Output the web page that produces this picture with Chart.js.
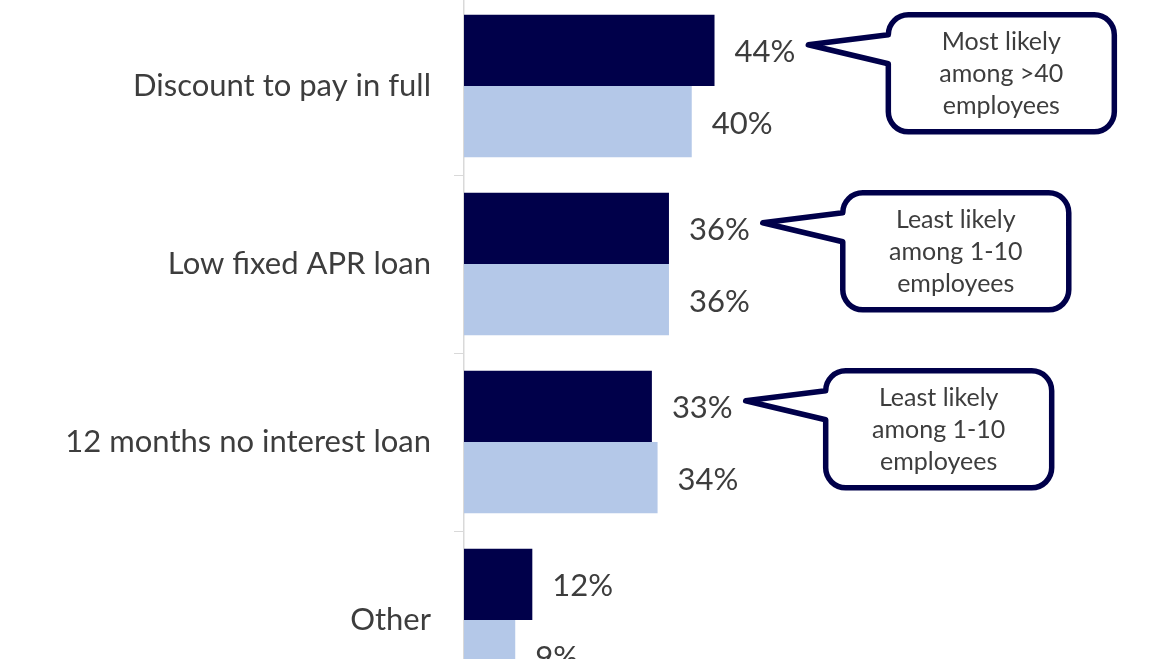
<!DOCTYPE html>
<html>
<head>
<meta charset="utf-8">
<script src="https://cdn.jsdelivr.net/npm/chart.js@4.4.1/dist/chart.umd.min.js"></script>
<style>
  html, body { margin: 0; padding: 0; background: #fff; overflow: hidden; }
  #wrap { position: absolute; left: 0; top: -3px; width: 1170px; height: 712px; }
</style>
</head>
<body>
<div id="wrap"><canvas id="chart"></canvas></div>
<script>
// ── Data ────────────────────────────────────────────────────────

const CATEGORIES = [
  "Discount to pay in full",
  "Low fixed APR loan",
  "12 months no interest loan",
  "Other",
];

const SERIES_DARK  = [44, 36, 33, 12];
const SERIES_LIGHT = [40, 36, 34, 9];

const CALLOUTS = [
  ["Most likely", "among >40", "employees"],
  ["Least likely", "among 1-10", "employees"],
  ["Least likely", "among 1-10", "employees"],
  null,
];

const FONT = "Lato";
const TEXT = "#3d3d3d";
const NAVY = "#00004a";

// ── Labels + callouts plugin ────────────────────────────────────

function roundedCallout(ctx, left, top, w, h, r, tipX, tipY) {
  const right = left + w, bottom = top + h;
  ctx.beginPath();
  ctx.moveTo(left, top + r);
  ctx.arcTo(left, top, left + r, top, r);
  ctx.lineTo(right - r, top);
  ctx.arcTo(right, top, right, top + r, r);
  ctx.lineTo(right, bottom - r);
  ctx.arcTo(right, bottom, right - r, bottom, r);
  ctx.lineTo(left + r, bottom);
  ctx.arcTo(left, bottom, left, bottom - r, r);
  ctx.lineTo(left, top + 49);
  ctx.lineTo(tipX, tipY);
  ctx.closePath();
}

const labelPlugin = {
  id: "labelPlugin",
  afterDatasetsDraw(chart) {
    const ctx = chart.ctx;
    ctx.save();
    ctx.font = `31px ${FONT}`;
    ctx.fillStyle = TEXT;
    ctx.textAlign = "left";
    ctx.textBaseline = "middle";

    chart.data.datasets.forEach((ds, di) => {
      const meta = chart.getDatasetMeta(di);
      meta.data.forEach((bar, i) => {
        const { x, y } = bar.getProps(["x", "y"], true);
        ctx.fillText(ds.data[i] + "%", x + 20, y + 2);
      });
    });

    const meta0 = chart.getDatasetMeta(0);
    CALLOUTS.forEach((lines, i) => {
      if (!lines) return;
      const bar = meta0.data[i];
      const { x, y, height } = bar.getProps(["x", "y", "height"], true);
      ctx.font = `31px ${FONT}`;
      const labelW = ctx.measureText(SERIES_DARK[i] + "%").width;
      const top = y - height / 2;
      const tipX = x + 20 + labelW + 13;
      const tipY = top + 30;
      const left = tipX + 80;
      const w = 226, h = 117;

      roundedCallout(ctx, left, top, w, h, 20, tipX, tipY);
      ctx.fillStyle = "#ffffff";
      ctx.fill();
      ctx.lineWidth = 5.5;
      ctx.lineJoin = "round";
      ctx.strokeStyle = NAVY;
      ctx.stroke();

      ctx.fillStyle = TEXT;
      ctx.font = `25px ${FONT}`;
      ctx.textAlign = "center";
      const cx = left + w / 2, cy = top + h / 2 + 1;
      lines.forEach((ln, k) => {
        ctx.fillText(ln, cx, cy + (k - 1) * 32);
      });
      ctx.textAlign = "left";
    });

    ctx.restore();
  },
};

// ── Chart ───────────────────────────────────────────────────────

new Chart(document.getElementById("chart"), {
  type: "bar",
  data: {
    labels: CATEGORIES,
    datasets: [
      {
        label: "Series 1",
        data: SERIES_DARK,
        backgroundColor: NAVY,
        categoryPercentage: 0.8,
        barPercentage: 1.0,
      },
      {
        label: "Series 2",
        data: SERIES_LIGHT,
        backgroundColor: "#b4c8e8",
        categoryPercentage: 0.8,
        barPercentage: 1.0,
      },
    ],
  },
  options: {
    indexAxis: "y",
    responsive: true,
    maintainAspectRatio: false,
    animation: false,
    layout: { padding: 0 },
    plugins: {
      legend: { display: false },
      tooltip: { enabled: false },
    },
    scales: {
      x: {
        display: false,
        min: 0,
        max: 124,
      },
      y: {
        afterFit: (s) => {
          s.width = 464;
          s.paddingTop = 0;
          s.paddingBottom = 0;
        },
        grid: {
          offset: true,
          drawOnChartArea: false,
          drawTicks: true,
          tickLength: 10,
          color: "#d9d9d9",
        },
        border: { display: true, color: "#d9d9d9", width: 1.5 },
        ticks: {
          autoSkip: false,
          padding: 23,
          color: TEXT,
          font: { family: FONT, size: 31 },
        },
      },
    },
  },
  plugins: [labelPlugin],
});
</script>
</body>
</html>
